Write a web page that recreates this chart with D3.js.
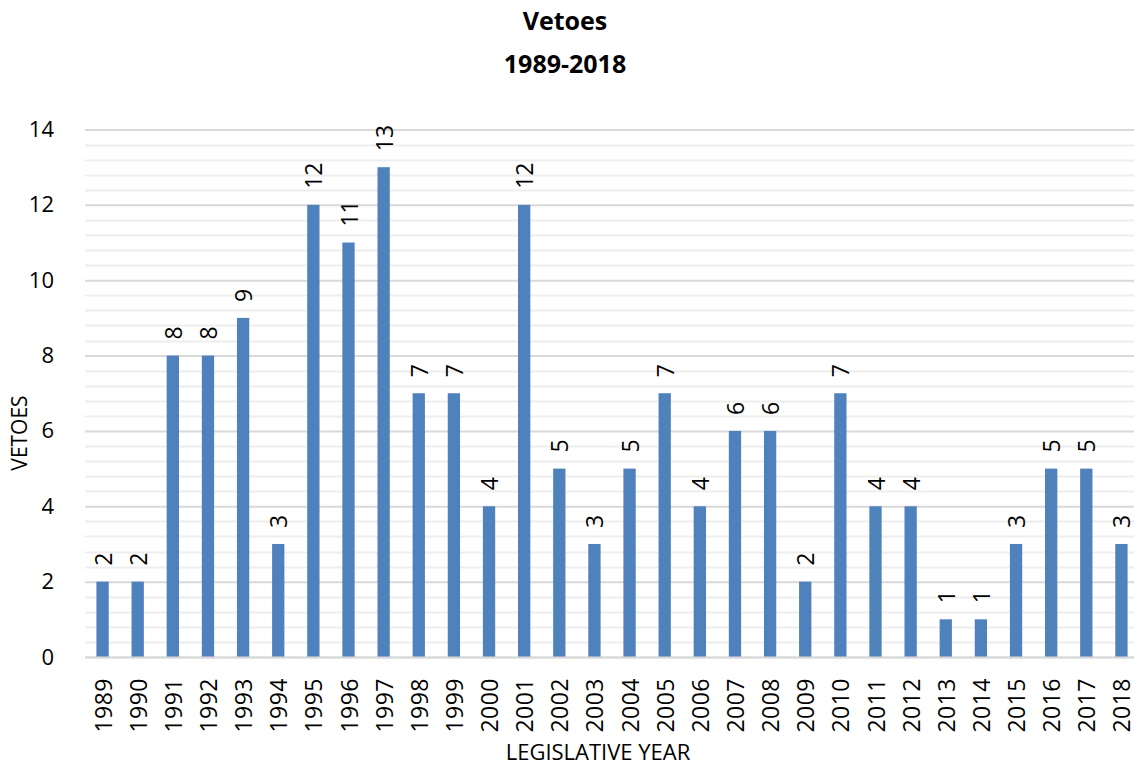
<!DOCTYPE html>
<html>
<head>
<meta charset="utf-8">
<script src="https://cdn.jsdelivr.net/npm/d3@7"></script>
<style>
  body { margin: 0; background: #fff; }
  text { font-family: "Open Sans", "Noto Sans", sans-serif; fill: #000; }
</style>
</head>
<body>
<svg id="chart" width="1134" height="765"></svg>
<script>
var years = ["1989","1990","1991","1992","1993","1994","1995","1996","1997","1998",
             "1999","2000","2001","2002","2003","2004","2005","2006","2007","2008",
             "2009","2010","2011","2012","2013","2014","2015","2016","2017","2018"]
var vetoes = [2,2,8,8,9,3,12,11,13,7,7,4,12,5,3,5,7,4,6,6,2,7,4,4,1,1,3,5,5,3]
var yTicks = [0,2,4,6,8,10,12,14]

var svg = d3.select("#chart")
var plot = {left:85, right:1139, top:129.5, bottom:657}

var xScale = d3.scaleBand()
    .domain(years)
    .range([plot.left, plot.right])
    .paddingInner(0.65)
    .paddingOuter(0.325)

var yScale = d3.scaleLinear()
    .domain([0, 14])
    .range([plot.bottom, plot.top])

// minor gridlines every 0.4
var minor = d3.range(0, 14.01, 0.4).filter(function(v){ return Math.abs(v/2 - Math.round(v/2)) > 0.01 })
svg.append("g").selectAll("line")
  .data(minor)
  .enter().append("line")
    .attr("x1", plot.left).attr("x2", 1134)
    .attr("y1", function(d){ return Math.round(yScale(d)) + 0.5 })
    .attr("y2", function(d){ return Math.round(yScale(d)) + 0.5 })
    .attr("stroke", "#eeeeee")
    .attr("stroke-width", 2)

// major gridlines + y axis labels
var yAxis = d3.axisLeft(yScale)
    .tickValues(yTicks)
    .tickSize(-(1134 - plot.left))
    .tickPadding(31)
svg.append("g")
    .attr("class", "axis-y")
    .attr("transform", "translate(" + plot.left + ",0)")
    .call(yAxis)
    .call(function(g){
      g.select(".domain").remove()
      g.selectAll(".tick line").attr("stroke", "#d9d9d9").attr("stroke-width", 2)
      g.selectAll(".tick text").style("font-size", "22px").attr("fill", "#000")
    })

// bars
svg.append("g").selectAll("rect")
  .data(vetoes)
  .enter().append("rect")
    .attr("x", function(d, i){ return xScale(years[i]) })
    .attr("y", function(d){ return yScale(d) })
    .attr("width", xScale.bandwidth())
    .attr("height", function(d){ return yScale(0) - yScale(d) })
    .attr("fill", "#4f81bd")

// value labels
svg.append("g").selectAll("text")
  .data(vetoes)
  .enter().append("text")
    .attr("transform", function(d, i){
      return "translate(" + (xScale(years[i]) + xScale.bandwidth()/2) + "," + (yScale(d) - 16) + ") rotate(-90)"
    })
    .attr("dominant-baseline", "central")
    .style("font-size", "23px")
    .text(function(d){ return d })

// x axis
var xAxis = d3.axisBottom(xScale).tickSize(0).tickPadding(0)
svg.append("g")
    .attr("class", "axis-x")
    .attr("transform", "translate(0," + plot.bottom + ")")
    .call(xAxis)
    .call(function(g){
      g.select(".domain").remove()
      g.selectAll(".tick text")
        .style("font-size", "23px")
        .style("letter-spacing", "0.5px")
        .attr("fill", "#000")
        .attr("text-anchor", "end")
        .attr("dominant-baseline", "central")
        .attr("dy", null)
        .attr("y", 0)
        .attr("transform", "translate(0,21) rotate(-90)")
    })

// baseline
svg.append("line")
    .attr("x1", plot.left).attr("x2", 1134)
    .attr("y1", Math.round(yScale(0)) + 0.5).attr("y2", Math.round(yScale(0)) + 0.5)
    .attr("stroke", "#d9d9d9").attr("stroke-width", 2)

// titles
svg.append("text")
    .attr("x", 565).attr("y", 30)
    .attr("text-anchor", "middle")
    .style("font-size", "25px").style("font-weight", "bold")
    .text("Vetoes")
svg.append("text")
    .attr("x", 565).attr("y", 73)
    .attr("text-anchor", "middle")
    .style("font-size", "25px").style("font-weight", "bold")
    .text("1989-2018")

svg.append("text")
    .attr("transform", "translate(27,433) rotate(-90)")
    .attr("text-anchor", "middle")
    .style("font-size", "21px")
    .text("VETOES")

svg.append("text")
    .attr("x", 598).attr("y", 760)
    .attr("text-anchor", "middle")
    .style("font-size", "22px")
    .text("LEGISLATIVE YEAR")
</script>
</body>
</html>
